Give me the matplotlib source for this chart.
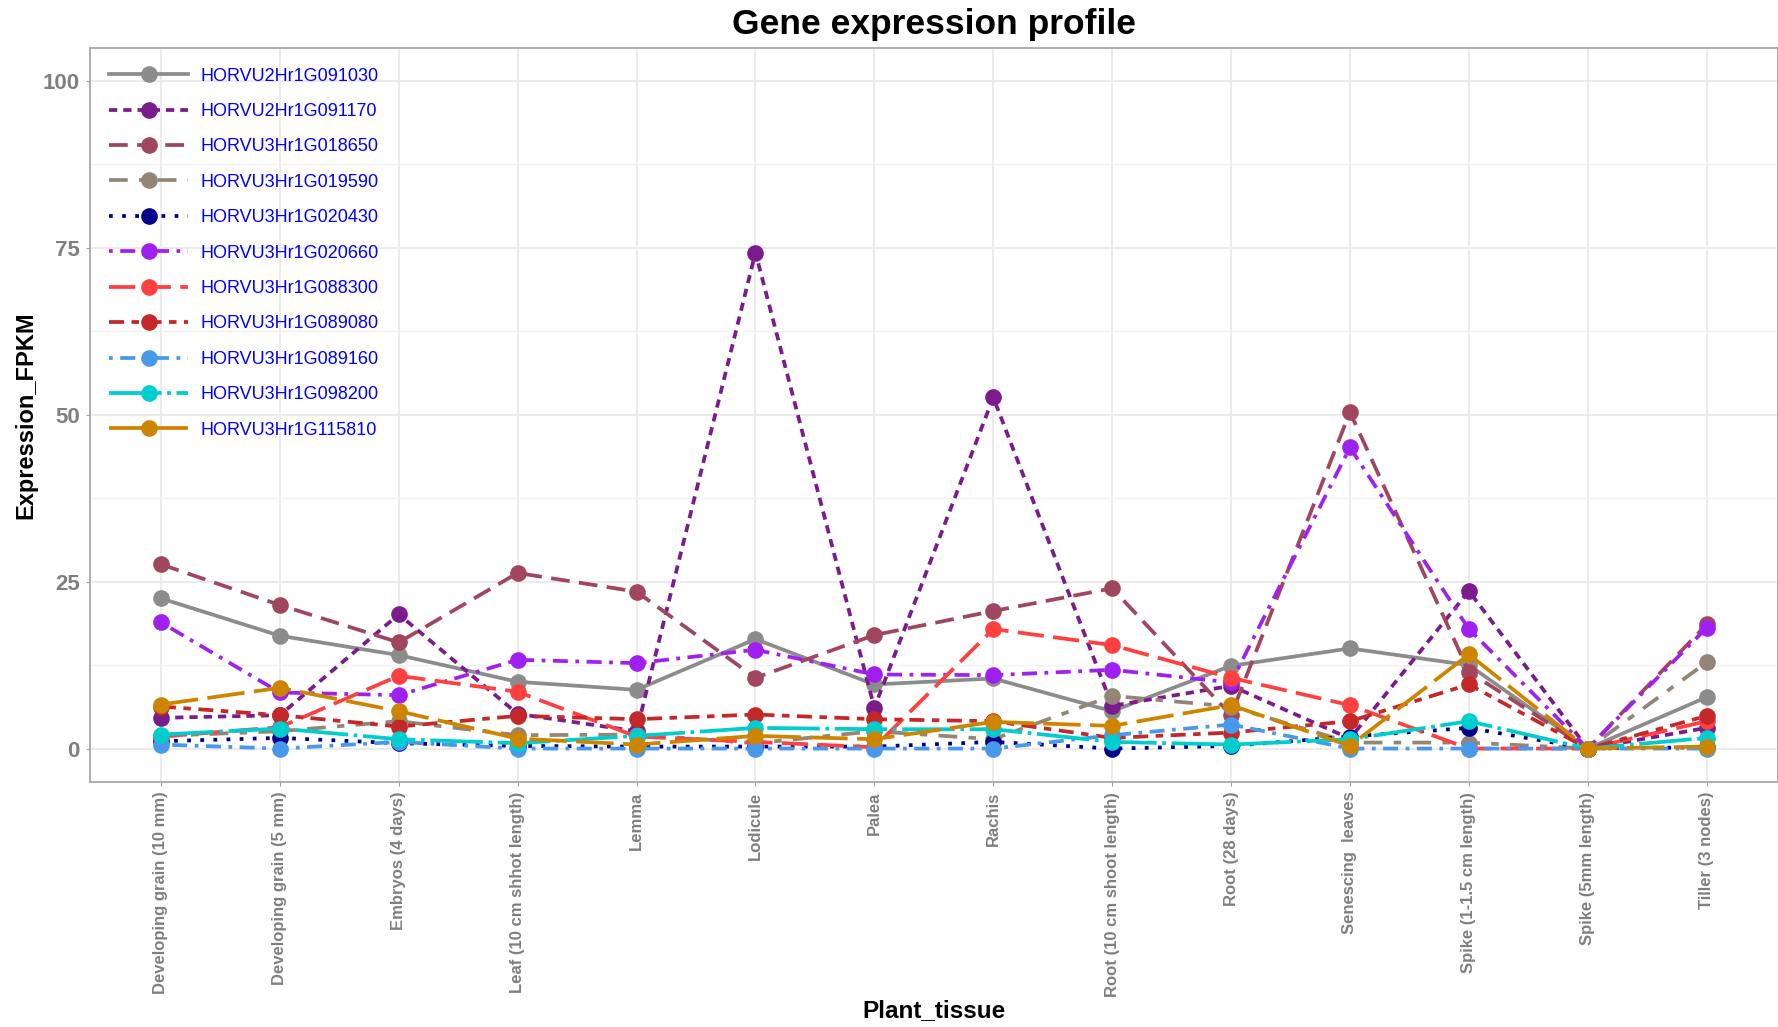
import matplotlib
matplotlib.use("Agg")
import matplotlib.pyplot as plt
from matplotlib.ticker import MultipleLocator

plt.rcParams['font.family'] = ['Liberation Sans', 'DejaVu Sans']

# tecidos (eixo x)
tissues = ["Developing grain (10 mm)", "Developing grain (5 mm)", "Embryos (4 days)",
           "Leaf (10 cm shhot length)", "Lemma", "Lodicule", "Palea", "Rachis",
           "Root (10 cm shoot length)", "Root (28 days)", "Senescing  leaves",
           "Spike (1-1.5 cm length)", "Spike (5mm length)", "Tiller (3 nodes)"]

genes = ["HORVU2Hr1G091030", "HORVU2Hr1G091170", "HORVU3Hr1G018650", "HORVU3Hr1G019590",
         "HORVU3Hr1G020430", "HORVU3Hr1G020660", "HORVU3Hr1G088300", "HORVU3Hr1G089080",
         "HORVU3Hr1G089160", "HORVU3Hr1G098200", "HORVU3Hr1G115810"]

# valores FPKM
g091030 = [22.5, 16.9, 14.0, 10.0, 8.8, 16.4, 9.6, 10.5, 5.6, 12.4, 15.0, 12.5, 0.0, 7.7]
g091170 = [4.6, 5.0, 20.1, 5.2, 2.6, 74.3, 6.1, 52.6, 6.4, 9.4, 1.5, 23.6, 0.0, 3.1]
g018650 = [27.6, 21.5, 15.9, 26.3, 23.5, 10.6, 17.0, 20.6, 24.0, 5.0, 50.4, 11.5, 0.0, 18.6]
g019590 = [1.9, 2.6, 4.1, 2.0, 2.1, 0.8, 2.6, 1.4, 7.9, 6.3, 0.9, 0.9, 0.0, 12.9]
g020430 = [1.1, 1.6, 0.8, 0.4, 0.3, 0.3, 0.3, 1.0, 0.0, 0.4, 1.8, 3.1, 0.0, 0.2]
g020660 = [18.9, 8.4, 8.0, 13.3, 12.8, 14.8, 11.1, 11.0, 11.8, 9.9, 45.1, 17.9, 0.0, 18.1]
g088300 = [1.8, 3.2, 10.9, 8.5, 1.8, 1.0, 0.2, 17.9, 15.5, 10.6, 6.5, 0.0, 0.0, 4.1]
g089080 = [6.3, 5.0, 3.3, 4.9, 4.4, 5.1, 4.4, 4.1, 1.6, 2.4, 4.1, 9.6, 0.0, 4.9]
g089160 = [0.6, 0.0, 1.0, 0.0, 0.0, 0.0, 0.0, 0.0, 2.0, 3.6, 0.0, 0.0, 0.0, 0.0]
g098200 = [2.1, 3.0, 1.4, 0.8, 1.9, 3.1, 2.9, 2.9, 1.0, 0.6, 1.4, 4.1, 0.0, 1.6]
g115810 = [6.6, 9.1, 5.6, 1.5, 0.6, 1.9, 1.4, 4.0, 3.4, 6.5, 0.4, 14.1, 0.0, 0.3]

series = [g091030, g091170, g018650, g019590, g020430, g020660,
          g088300, g089080, g089160, g098200, g115810]

colors = ["#8C8C8C", "#7A1C8C", "#A0465E", "#938676", "#00008B", "#A020F0",
          "#FF4040", "#C42828", "#4898EC", "#00CDCD", "#CD8500"]

styles = ["-", (0, (2.2, 1.6)), (0, (5, 2.5)), (0, (5, 3, 2, 3)), (0, (1, 2.5)),
          (0, (1, 2, 4, 2)), (0, (7, 2.5)), (0, (4, 2, 2, 2)), (0, (1, 2, 4, 2)),
          (0, (14, 1.5, 1, 1.5)), (0, (10, 2.5))]

fig = plt.figure(figsize=(17.78, 10.27), dpi=100)
ax = fig.add_axes([0.0504, 0.2386, 0.9496, 0.7151])

x = list(range(1, len(tissues) + 1))
for vals, name, c, ls in zip(series, genes, colors, styles):
    ax.plot(x, vals, color=c, linestyle=ls, linewidth=2.7, marker="o",
            markersize=12, markeredgewidth=0, label=name)

ax.set_xlim(0.4, 14.6)
ax.set_ylim(-5, 105)
ax.set_xticks(x)
ax.set_xticklabels(tissues, rotation=90, fontsize=12, fontweight="bold", color="#7F7F7F")
ax.yaxis.set_major_locator(MultipleLocator(25))
ax.yaxis.set_minor_locator(MultipleLocator(12.5))
for lab in ax.get_yticklabels():
    lab.set_fontsize(16)
    lab.set_fontweight("bold")
    lab.set_color("#7F7F7F")

ax.grid(True, which="major", color="#EBEBEB", linewidth=1.4)
ax.grid(True, which="minor", axis="y", color="#F2F2F2", linewidth=1.0)
ax.set_axisbelow(True)
ax.tick_params(axis="both", which="major", length=3, color="#A0A0A0", pad=4)
ax.tick_params(axis="y", which="minor", length=0)
for s in ax.spines.values():
    s.set_color("#A8A8A8")
    s.set_linewidth(1.3)

ax.set_title("Gene expression profile", fontsize=25.5, fontweight="bold", pad=10)
ax.set_xlabel("Plant_tissue", fontsize=17.5, fontweight="bold", va="center")
ax.xaxis.set_label_coords(0.5, -0.311)
ax.set_ylabel("Expression_FPKM", fontsize=17, fontweight="bold", va="center")
ax.yaxis.set_label_coords(-0.0377, 0.5)

leg = ax.legend(loc="upper left", frameon=False, fontsize=13, numpoints=1,
                handlelength=4.4, handletextpad=0.64, labelspacing=1.02,
                borderaxespad=0.3, bbox_to_anchor=(0.004, 0.99))
for t in leg.get_texts():
    t.set_color("#0000FF")

fig.savefig("out.png", dpi=100)
